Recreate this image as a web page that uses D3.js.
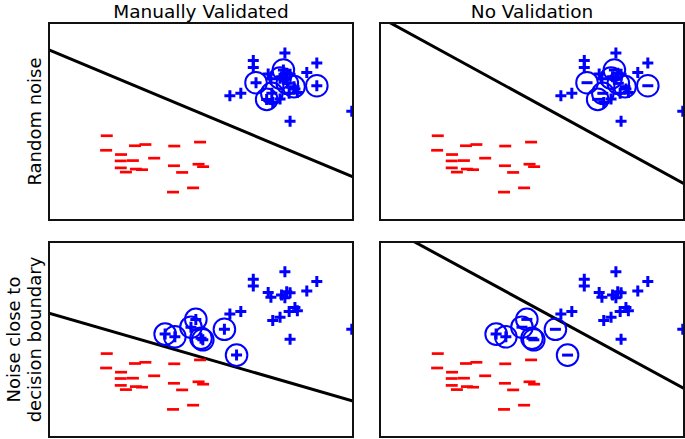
<!DOCTYPE html>
<html>
<head>
<meta charset="utf-8">
<script src="https://cdn.jsdelivr.net/npm/d3@7"></script>
<style>
  body { margin: 0; background: #fff; }
  text { font-family: "DejaVu Sans", sans-serif; }
</style>
</head>
<body>
<div id="wrapper"></div>
<script>
// column / row titles
const colTitles = ["Manually Validated", "No Validation"];
const rowTitles = [["Random noise"], ["Noise close to", "decision boundary"]];

// negative class (red "-"), same in every panel  [x, y]
const negPoints = [
    [19.0, 27.8], [18.8, 23.0], [23.7, 21.6], [28.3, 24.5], [31.7, 24.9],
    [23.6, 19.5], [27.6, 19.6], [34.6, 20.4], [41.2, 24.4], [49.7, 25.7],
    [23.6, 17.2], [25.3, 15.8], [28.6, 16.8], [30.6, 16.6], [41.1, 17.9],
    [43.8, 15.7], [49.2, 18.4], [50.7, 17.6], [47.4, 10.6], [40.8, 9.2]
];

// positive class (blue "+"), same in every panel
const posPoints = [
    [67.2, 52.6], [67.2, 50.3], [77.6, 55.1], [88.1, 51.8], [84.8, 48.7],
    [72.1, 48.2], [73.0, 46.6], [76.5, 47.3], [78.2, 48.4], [77.6, 46.4],
    [79.3, 48.1], [59.5, 41.0], [63.1, 41.8], [80.9, 43.2], [81.7, 42.1],
    [79.0, 41.8], [76.0, 39.9], [73.6, 38.8], [79.3, 32.6], [99.6, 35.9]
];

// noisy points (circled) for each row
const noiseRandom = [
    [68.1, 45.3], [77.1, 49.5], [80.6, 44.0], [88.1, 44.3],
    [71.6, 39.8], [73.3, 41.8], [78.4, 45.1], [76.0, 46.8]
];
const noiseRandomLabels = ["-", "-", "-", "-", "-", "-", "-", "-"];

const noiseBoundary = [
    [38.2, 34.3], [41.4, 33.4], [46.7, 36.6], [48.3, 39.2],
    [50.0, 32.9], [50.6, 32.4], [57.7, 35.9], [61.7, 27.3]
];
const noiseBoundaryLabels = ["+", "+", "-", "-", "-", "-", "-", "-"];

// decision boundary: y at x = 0 and x = 100, [row][col]
const boundaries = [
    [[56.1, 14.2], [66.9, 12.0]],
    [[41.3, 12.0], [71.3, 16.2]]
];

const xDomain = [0, 100];
const yDomain = [0, 65];

const dimension = {
    width: 685,
    height: 439,
    panelX: [49, 380],
    panelW: 304,
    panelY: [23, 242],
    panelH: [197, 195]
};

const svg = d3.select("#wrapper").append("svg")
    .attr("width", dimension.width)
    .attr("height", dimension.height);

const plusPath = "M-5.5,0H5.5M0,-5.5V5.5";
const minusPath = "M-6,0H6";
const smallMinus = "M-5.5,0H5.5";

const noiseSets = [
    { pts: noiseRandom, labels: noiseRandomLabels },
    { pts: noiseBoundary, labels: noiseBoundaryLabels }
];

for (let r = 0; r < 2; r++) {
    for (let c = 0; c < 2; c++) {
        const w = dimension.panelW, h = dimension.panelH[r];
        const x = d3.scaleLinear().domain(xDomain).range([0, w]);
        const y = d3.scaleLinear().domain(yDomain).range([h, 0]);

        const g = svg.append("g")
            .attr("transform", `translate(${dimension.panelX[c]},${dimension.panelY[r]})`);

        const clipId = `clip-${r}-${c}`;
        g.append("clipPath").attr("id", clipId)
            .append("rect").attr("width", w).attr("height", h);

        const plot = g.append("g").attr("clip-path", `url(#${clipId})`);

        const b = boundaries[r][c];
        plot.append("line")
            .attr("x1", x(xDomain[0])).attr("y1", y(b[0]))
            .attr("x2", x(xDomain[1])).attr("y2", y(b[1]))
            .attr("stroke", "black")
            .attr("stroke-width", 3);

        plot.selectAll(".neg")
            .data(negPoints)
            .join("path")
            .attr("class", "neg")
            .attr("d", minusPath)
            .attr("stroke", "red")
            .attr("stroke-width", 2.7)
            .attr("transform", d => `translate(${x(d[0])},${y(d[1])})`);

        plot.selectAll(".pos")
            .data(posPoints)
            .join("path")
            .attr("class", "pos")
            .attr("d", plusPath)
            .attr("stroke", "blue")
            .attr("stroke-width", 3)
            .attr("transform", d => `translate(${x(d[0])},${y(d[1])})`);

        const noise = noiseSets[r];
        const noiseData = noise.pts.map((p, i) => ({
            p: p,
            label: c === 0 ? "+" : noise.labels[i]
        }));

        const ng = plot.selectAll(".noise")
            .data(noiseData)
            .join("g")
            .attr("class", "noise")
            .attr("transform", d => `translate(${x(d.p[0])},${y(d.p[1])})`);

        ng.append("path")
            .attr("d", d => d.label === "+" ? plusPath : smallMinus)
            .attr("stroke", "blue")
            .attr("stroke-width", 3);

        ng.append("circle")
            .attr("r", 10.8)
            .attr("fill", "none")
            .attr("stroke", "blue")
            .attr("stroke-width", 2);

        g.append("rect")
            .attr("width", w).attr("height", h)
            .attr("fill", "none")
            .attr("stroke", "#111")
            .attr("stroke-width", 2);

        if (r === 0) {
            svg.append("text")
                .attr("x", dimension.panelX[c] + w / 2)
                .attr("y", 17.5)
                .attr("text-anchor", "middle")
                .style("font-size", "18.5px")
                .text(colTitles[c]);
        }
    }

    // row label, rotated, centred on the row
    const lines = rowTitles[r];
    const cy = dimension.panelY[r] + dimension.panelH[r] / 2;
    const lab = svg.append("text")
        .attr("transform", `translate(41,${cy}) rotate(-90)`)
        .attr("text-anchor", "middle")
        .style("font-size", "18px");
    lines.forEach((t, i) => {
        lab.append("tspan")
            .attr("x", 0)
            .attr("y", (i - (lines.length - 1)) * 21)
            .text(t);
    });
}
</script>
</body>
</html>
